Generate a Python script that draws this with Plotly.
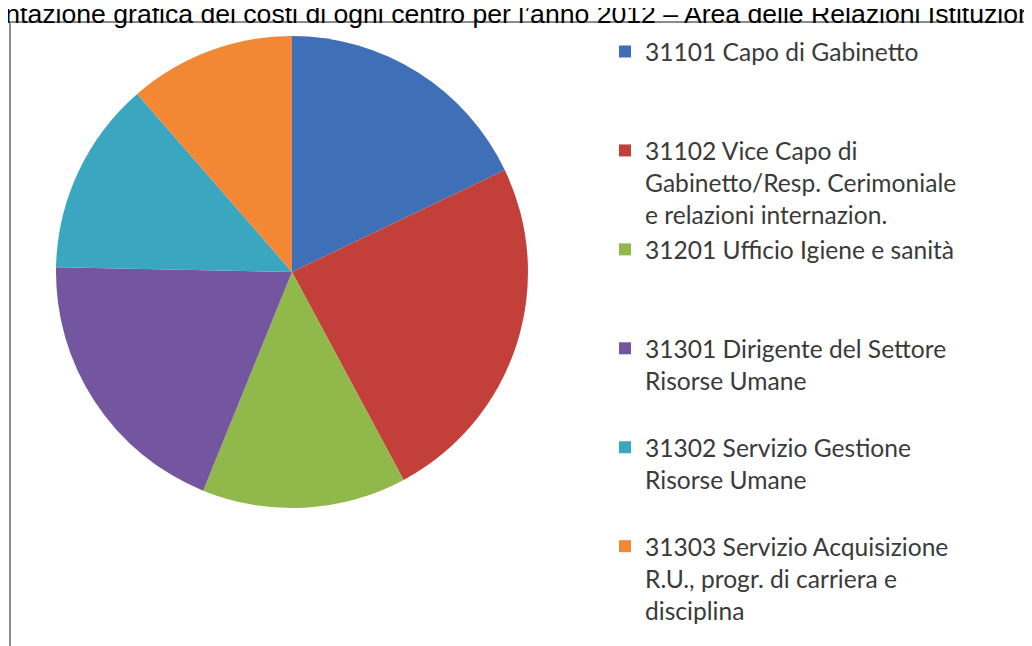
import plotly.graph_objects as go

# ---- data (degrees converted to shares) ----
centri = [
    "31101 Capo di Gabinetto",
    "31102 Vice Capo di<br>Gabinetto/Resp. Cerimoniale<br>e relazioni internazion.",
    "31201 Ufficio Igiene e sanità",
    "31301 Dirigente del Settore<br>Risorse Umane",
    "31302 Servizio Gestione<br>Risorse Umane",
    "31303 Servizio Acquisizione<br>R.U., progr. di carriera e<br>disciplina",
]
quote = [17.9, 24.3, 14.0, 19.2, 13.3, 11.4]
colori = ["#3F6FB6", "#C3403A", "#90B84A", "#73569F", "#3AA6C0", "#F28734"]
titolo = ("Rappresentazione grafica dei costi di ogni centro per l\u2019anno 2012 \u2013 "
          "Area delle Relazioni Istituzionali")

W, H = 1032, 646

# legend rows: pad every entry to three lines so the spacing matches
def pad(lbl, rows=3):
    n = lbl.count("<br>") + 1
    return lbl + "<br> " * max(0, rows - n)

legend_labels = [pad(c) for c in centri]

fig = go.Figure(go.Pie(
    labels=legend_labels,
    values=quote,
    sort=False,
    direction="clockwise",
    rotation=0,
    textinfo="none",
    hoverinfo="label+percent",
    marker=dict(colors=colori, line=dict(width=0)),
    domain=dict(x=[48 / W, 520 / W], y=[1 - 500 / H, 1 - 28 / H]),
))

# outer frame of the chart area
fig.add_shape(type="rect", xref="paper", yref="paper",
              x0=2 / W, x1=1.05, y0=-0.05, y1=1 - 14 / H,
              line=dict(color="#8C8C8C", width=2), fillcolor="rgba(0,0,0,0)",
              layer="below")

fig.add_annotation(text=titolo, xref="paper", yref="paper",
                   x=-120 / W, y=1 + 11 / H, xanchor="left", yanchor="top",
                   showarrow=False,
                   font=dict(family="Liberation Sans, Arial", size=26.6, color="#000000"))

fig.update_layout(
    width=W, height=H,
    margin=dict(l=0, r=0, t=0, b=0),
    paper_bgcolor="white",
    plot_bgcolor="white",
    showlegend=True,
    legend=dict(
        x=597 / W, y=1 - 21 / H, xanchor="left", yanchor="top",
        valign="top",
        font=dict(family="Lato", size=24.6, color="#3A3A3A"),
        bgcolor="rgba(0,0,0,0)",
        traceorder="normal",
    ),
)

fig.write_html("out.html")
